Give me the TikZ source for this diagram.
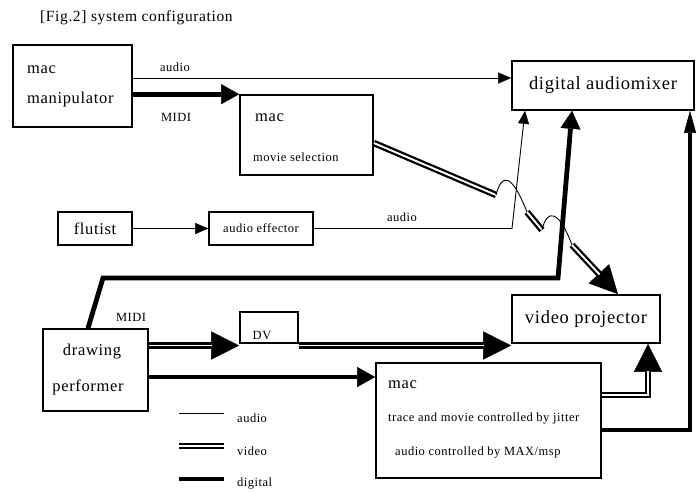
\documentclass[tikz,border=0pt]{standalone}
\usepackage{fontspec}
\setmainfont{Liberation Serif}[LetterSpace=4]
\usetikzlibrary{arrows.meta}
\tikzset{
	box/.style={draw,line width=1.6pt,inner sep=0pt},
	small/.style={font=\fontsize{12.5}{15}\selectfont},
	mid/.style={font=\fontsize{16.5}{19}\selectfont},
	big/.style={font=\fontsize{18.5}{22}\selectfont},
	audio/.style={line width=0.9pt},
	digital/.style={line width=4.8pt},
	video/.style={line width=6.5pt,postaction={draw=white,line width=1.9pt,-,shorten >=#1}},
	video/.default=0pt,
	sa/.style={-{Triangle[length=13pt,width=11pt,line width=0.4pt]}},
	da/.style={-{Triangle[length=18pt,width=20pt,line width=0.4pt]}},
	va/.style={-{Triangle[length=28pt,width=28pt,line width=0.4pt]}}
}
\begin{document}
\begin{tikzpicture}[x=1pt,y=-1pt,every node/.style={inner sep=0pt}]
		\useasboundingbox(0,0)rectangle(696,491);
		\node[anchor=west,font=\fontsize{15.5}{18}\selectfont](title)at(40,18){[Fig.2] system configuration};
		% boxes
		\node[box,minimum width=119pt,minimum height=82pt](A)at(72.5,86){};
		\node[box,minimum width=133pt,minimum height=80pt](B)at(306.5,135){};
		\node[box,big,minimum width=182pt,minimum height=49pt](M)at(603,85.5){digital audiomixer};
		\node[box,mid,minimum width=74pt,minimum height=33pt](F)at(95,228.5){flutist};
		\node[box,small,minimum width=104pt,minimum height=33pt](E)at(261,228.5){audio effector};
		\node[box,minimum width=105pt,minimum height=82pt](DP)at(95.5,370){};
		\node[box,minimum width=58pt,minimum height=31pt](DV)at(269,327.5){};
		\node[box,big,minimum width=148pt,minimum height=48pt](P)at(586,319){video projector};
		\node[box,minimum width=225pt,minimum height=115pt](C)at(488.5,420.5){};
		% texts in boxes
		\node[mid,anchor=west](Amac)at(27,70){mac};
		\node[mid,anchor=west](Aman)at(27,100){manipulator};
		\node[mid,anchor=west](Bmac)at(255,118){mac};
		\node[small,anchor=west](Bmov)at(253,157){movie selection};
		\node[mid](DPdr)at(92,352){drawing};
		\node[mid](DPpe)at(88,387){performer};
		\node[small](DVt)at(262,335){DV};
		\node[mid,anchor=west](Cmac)at(388,385){mac};
		\node[small,anchor=west](Ctra)at(388,419){trace and movie controlled by jitter};
		\node[small,anchor=west](Caud)at(395,453){audio controlled by MAX/msp};
		% labels
		\node[small](la1)at(175,67){audio};
		\node[small](lm1)at(176,117){MIDI};
		\node[small](la2)at(402,217){audio};
		\node[small](lm2)at(131,317){MIDI};
		% rows and corners
		\coordinate(arow)at(0,78);
		\coordinate(vb)at(0,143);
		\coordinate(vrow)at(0,345.5);
		\coordinate(drow)at(0,377);
		\coordinate(e1)at(512,228.5);
		\coordinate(e2)at(525,0);
		\coordinate(d1)at(103,278);
		\coordinate(d2)at(558,278);
		\coordinate(d3)at(572,0);
		\coordinate(r1)at(690,430);
		\coordinate(v3)at(648,395);
		\coordinate(h1)at(496,195);
		\coordinate(h2)at(527,212);
		\coordinate(h3)at(542,230);
		\coordinate(h4)at(572,245);
		\coordinate(h5)at(618,0);
		% audio
		\draw[audio,sa](A.east|-arow)--(M.west|-arow);
		\draw[audio,sa](F)--(E);
		\draw[audio,sa](E)--(e1)--(e2|-M.south);
		% digital
		\draw[digital,da](A.east|-B.north)--(B.north west);
		\draw[digital,da]([xshift=-7.5pt]DP.north)--(d1)--(d2)--(d3|-M.south);
		\draw[digital,da](DP.east|-drow)--(C.west|-drow);
		\draw[digital,-{Triangle[length=22pt,width=12pt,line width=0.4pt]}](C.east|-r1)--(r1)--(r1|-M.south);
		% video
		\draw[video=27pt,va](DP.east|-vrow)--(DV.west|-vrow);
		\draw[video=27pt,va](DV.east|-vrow)--(P.west|-vrow);
		\draw[video=27pt,va](C.east|-v3)--(v3)--(v3|-P.south);
		\draw[video](B.east|-vb)--(h1);
		\draw[audio](h1)..controls(502,172)and(512,174)..(h2);
		\draw[video](h2)--(h3);
		\draw[audio](h3)..controls(547,208)and(559,210)..(h4);
		\draw[video=27pt,va](h4)--(h5|-P.north);
		% legend
		\foreach\s/\t/\y in{audio/audio/413,video/video/446,digital/digital/479}{
			\draw[\s](179,\y)--(224,\y);
			\node[small,anchor=west](leg\t)at(237,\y+5){\t};}
		\end{tikzpicture}
\end{document}
